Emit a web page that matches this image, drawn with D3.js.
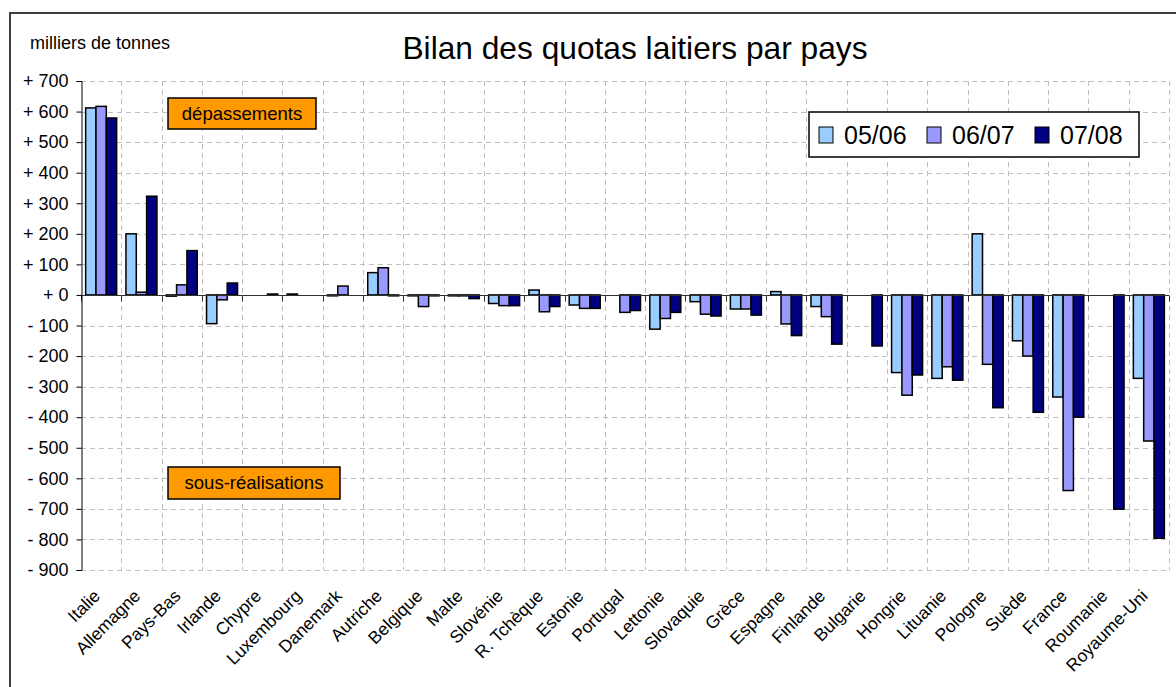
<!DOCTYPE html>
<html>
	<head>
		<title>Bilan des quotas laitiers par pays</title>
		<script src="https://cdn.jsdelivr.net/npm/d3@7"></script>
		<style type="text/css">
			body {
				margin: 0;
				background: #fff;
				font-family: Arial, "Liberation Sans", sans-serif;
			}
		</style>
	</head>
	<body>
		<script type="text/javascript">
			var countries = ["Italie", "Allemagne", "Pays-Bas", "Irlande", "Chypre", "Luxembourg", "Danemark",
				"Autriche", "Belgique", "Malte", "Slovénie", "R. Tchèque", "Estonie", "Portugal", "Lettonie",
				"Slovaquie", "Grèce", "Espagne", "Finlande", "Bulgarie", "Hongrie", "Lituanie", "Pologne",
				"Suède", "France", "Roumanie", "Royaume-Uni"];

			var seriesNames = ["05/06", "06/07", "07/08"];
			var seriesColors = ["#99ccff", "#9999ff", "#000080"];

			var v0506 = [612, 200, -4, -94, 0, 3, -3, 73, -3, -3, -28, 16, -33, 0, -112, -22, -46, 11, -38, 0, -254, -273, 200, -150, -334, 0, -273];
			var v0607 = [617, 9, 33, -16, 0, 0, 29, 89, -38, -3, -35, -55, -44, -57, -77, -63, -46, -95, -71, 0, -328, -235, -227, -200, -640, 0, -478];
			var v0708 = [579, 323, 145, 39, 3, 0, 0, -3, -3, -12, -35, -38, -44, -51, -57, -69, -66, -133, -161, -167, -262, -279, -369, -384, -400, -701, -796];

			var yTicks = d3.range(-900, 701, 100);

			var w = 1176;
			var h = 687;
			var plotL = 81, plotR = 1169, plotT = 81, plotB = 570;

			var svg = d3.select("body")
				.append("svg")
					.attr("width", w)
					.attr("height", h);

			// chart frame (only top and left edges are inside the picture)
			svg.append("rect")
				.attr("x", 10)
				.attr("y", 13)
				.attr("width", w)
				.attr("height", h)
				.attr("fill", "#fff")
				.attr("stroke", "#404040")
				.attr("stroke-width", 2);

			var x = d3.scaleBand()
				.domain(countries)
				.range([plotL, plotR]);

			var cat = x.bandwidth();
			var barW = cat / 3.9;
			var x1 = d3.scaleBand()
				.domain(seriesNames)
				.range([barW * 0.45, barW * 0.45 + barW * 3]);

			var y = d3.scaleLinear()
				.domain([-900, 700])
				.range([plotB, plotT]);

			// grid
			svg.append("g")
				.selectAll("line")
				.data(yTicks.filter(function (d) { return d != 0; }))
				.enter().append("line")
					.attr("x1", plotL)
					.attr("x2", plotR)
					.attr("y1", function (d) { return Math.round(y(d)) + 0.5; })
					.attr("y2", function (d) { return Math.round(y(d)) + 0.5; })
					.attr("stroke", "#c0c0c0")
					.attr("stroke-dasharray", "5,4");

			svg.append("g")
				.selectAll("line")
				.data(countries.slice(1).concat(["end"]))
				.enter().append("line")
					.attr("x1", function (d, i) { return Math.round(plotL + (i + 1) * cat) + 0.5; })
					.attr("x2", function (d, i) { return Math.round(plotL + (i + 1) * cat) + 0.5; })
					.attr("y1", plotT)
					.attr("y2", plotB)
					.attr("stroke", "#c0c0c0")
					.attr("stroke-dasharray", "5,4");

			// bars
			var values = [v0506, v0607, v0708];
			var barData = [];
			countries.forEach(function (c, i) {
				seriesNames.forEach(function (s, j) {
					if (values[j][i] != 0) {
						barData.push({country: c, series: s, value: values[j][i], color: seriesColors[j]});
					}
				});
			});

			svg.append("g")
				.selectAll("rect")
				.data(barData)
				.enter().append("rect")
					.attr("x", function (d) { return x(d.country) + x1(d.series); })
					.attr("width", x1.bandwidth())
					.attr("y", function (d) { return Math.min(y(d.value), y(0)); })
					.attr("height", function (d) { return Math.abs(y(d.value) - y(0)); })
					.attr("fill", function (d) { return d.color; })
					.attr("stroke", "#000")
					.attr("stroke-width", 1.5);

			// zero line with category ticks
			var y0 = Math.round(y(0)) + 0.5;
			svg.append("line")
				.attr("x1", plotL)
				.attr("x2", plotR)
				.attr("y1", y0)
				.attr("y2", y0)
				.attr("stroke", "#303030");

			svg.append("g")
				.selectAll("line")
				.data(countries.concat(["end"]))
				.enter().append("line")
					.attr("x1", function (d, i) { return Math.round(plotL + i * cat) + 0.5; })
					.attr("x2", function (d, i) { return Math.round(plotL + i * cat) + 0.5; })
					.attr("y1", y0)
					.attr("y2", y0 + 6)
					.attr("stroke", "#303030");

			// y axis
			var yAxis = d3.axisLeft(y)
				.tickValues(yTicks)
				.tickSize(5)
				.tickPadding(8)
				.tickFormat(function (d) {
					return d < 0 ? "- " + Math.abs(d) : "+ " + d;
				});

			var ya = svg.append("g")
				.attr("transform", "translate(" + (plotL + 0.5) + ",0)")
				.call(yAxis);
			ya.select(".domain").attr("stroke", "#000");
			ya.selectAll(".tick line").attr("stroke", "#000");
			ya.selectAll(".tick text")
				.attr("fill", "#000")
				.style("font-family", "Arial, 'Liberation Sans', sans-serif")
				.style("font-size", "18px");

			// category labels
			svg.append("g")
				.selectAll("text")
				.data(countries)
				.enter().append("text")
					.attr("transform", function (d) {
						return "translate(" + [x(d) + cat / 2, 597] + ") rotate(-45)";
					})
					.attr("text-anchor", "end")
					.style("font-size", "17.5px")
					.text(function (d) { return d; });

			// titles
			svg.append("text")
				.attr("x", 635)
				.attr("y", 59)
				.attr("text-anchor", "middle")
				.style("font-size", "31.7px")
				.text("Bilan des quotas laitiers par pays");

			svg.append("text")
				.attr("x", 30)
				.attr("y", 49)
				.style("font-size", "18px")
				.text("milliers de tonnes");

			// annotation boxes
			var notes = [
				{text: "dépassements", x: 168, y: 98, w: 148, h: 31},
				{text: "sous-réalisations", x: 168, y: 467, w: 172, h: 32}
			];
			var note = svg.append("g")
				.selectAll("g")
				.data(notes)
				.enter().append("g");
			note.append("rect")
				.attr("x", function (d) { return d.x; })
				.attr("y", function (d) { return d.y; })
				.attr("width", function (d) { return d.w; })
				.attr("height", function (d) { return d.h; })
				.attr("fill", "#ff9900")
				.attr("stroke", "#000")
				.attr("stroke-width", 1.5);
			note.append("text")
				.attr("x", function (d) { return d.x + d.w / 2; })
				.attr("y", function (d) { return d.y + d.h / 2 + 6; })
				.attr("text-anchor", "middle")
				.style("font-size", "18.5px")
				.text(function (d) { return d.text; });

			// legend
			var legend = svg.append("g")
				.attr("transform", "translate(809,112)");
			legend.append("rect")
				.attr("width", 330)
				.attr("height", 45)
				.attr("fill", "#fff")
				.attr("stroke", "#000")
				.attr("stroke-width", 1.5);
			var item = legend.selectAll("g.item")
				.data(seriesNames)
				.enter().append("g")
					.attr("class", "item")
					.attr("transform", function (d, i) { return "translate(" + (10 + i * 108) + ",0)"; });
			item.append("rect")
				.attr("y", 15)
				.attr("width", 14)
				.attr("height", 16)
				.attr("fill", function (d, i) { return seriesColors[i]; })
				.attr("stroke", "#000")
				.attr("stroke-width", 1);
			item.append("text")
				.attr("x", 25)
				.attr("y", 32)
				.style("font-size", "25px")
				.text(function (d) { return d; });
		</script>
	</body>
</html>
